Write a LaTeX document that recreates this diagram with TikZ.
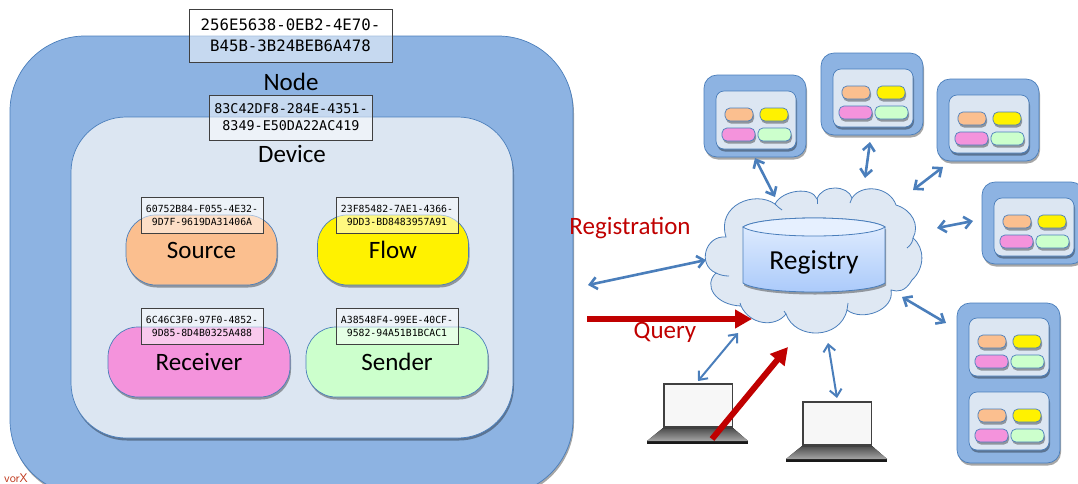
\documentclass[tikz,border=0pt]{standalone}
\usepackage{fontspec}
\setmainfont{Carlito}
\newfontfamily\idfont{DejaVu Sans Mono}
\usetikzlibrary{arrows.meta,shadows}
\definecolor{linkblue}{HTML}{4A7EBB}
\definecolor{nodeblue}{HTML}{8DB3E2}
\definecolor{devblue}{HTML}{DCE6F2}
\definecolor{srccol}{HTML}{FBBF8F}
\definecolor{recvcol}{HTML}{F493DC}
\definecolor{sendcol}{HTML}{CCFFCC}
\definecolor{queryred}{HTML}{C00000}
\definecolor{drumtop}{HTML}{E6F0FF}
\definecolor{drumlow}{HTML}{A9C9FA}
\begin{document}
\begin{tikzpicture}[
    x=1pt, y=-1pt,
    softshadow/.style={drop shadow={shadow xshift=1pt, shadow yshift=-2.5pt, opacity=.35, fill=black}},
    every node/.style={font=\fontsize{25}{28}\selectfont},
    boxnode/.style={draw=linkblue, line width=.7pt, rounded corners=#1, softshadow, inner sep=0pt},
    idbig/.style={draw=black!75, line width=.9pt, fill=white, fill opacity=.5, draw opacity=1, text opacity=1, align=center, inner sep=0pt, minimum width=203pt, minimum height=53pt, font=\idfont\fontsize{15.7}{21}\selectfont},
    idmid/.style={idbig, minimum width=163pt, minimum height=45pt, font=\idfont\fontsize{13.4}{17}\selectfont},
    idsmall/.style={idbig, minimum width=122pt, minimum height=36pt, font=\idfont\fontsize{9.8}{13}\selectfont},
    biglink/.style={linkblue, line width=2.6pt, {Straight Barb[length=7pt,width=12pt]}-{Straight Barb[length=7pt,width=12pt]}},
    thinlink/.style={biglink, line width=2pt},
    redlink/.style={queryred, line width=6pt, -{Triangle[length=17pt,width=18pt]}},
    redlabel/.style={text=queryred},
    chip/.style={draw=linkblue, line width=.7pt, rounded corners=5pt, softshadow},
    devicepic/.pic={
        \draw[fill=devblue, draw=linkblue, line width=.7pt, rounded corners=8pt, softshadow] (0,0) rectangle (80,58);
        \draw[chip, fill=srccol] (9,17) rectangle (37,30);
        \draw[chip, fill=yellow] (44,17) rectangle (72,30);
        \draw[chip, fill=recvcol] (6,37) rectangle (39,50);
        \draw[chip, fill=sendcol] (42,37) rectangle (75,50);
    },
    nodepic/.pic={
        \draw[fill=nodeblue, draw=linkblue, line width=.7pt, rounded corners=13pt, softshadow] (0,0) rectangle (102,82);
        \pic at (12,16) {devicepic};
    },
    laptop/.pic={
        \fill[black!90] (-16,58) -- (85,58) -- (85,61) -- (-16,61) -- cycle;
        \fill[top color=black!70, bottom color=black!35] (0,45) -- (70,45) -- (85,58) -- (-16,58) -- cycle;
        \fill[black!75] (0,0) rectangle (70,46);
        \fill[black!3] (1.5,1.5) rectangle (68.5,43);
    }
]
    \useasboundingbox (0,0) rectangle (1078,483);
    \clip (0,0) rectangle (1078,483);

    % big node on the left
    \node (nodebox) [boxnode=75pt, fill=nodeblue, minimum width=563pt, minimum height=459pt] at (291.5,265.5) {};
    \node (nodeid) [idbig] at (290.5,35.5) {256E5638-0EB2-4E70-\\B45B-3B24BEB6A478};
    \node (nodelabel) at (291,82) {Node};
    \node (devicebox) [boxnode=55pt, fill=devblue, minimum width=442pt, minimum height=321pt] at (292,277.5) {};
    \node (deviceid) [idmid] at (291,117.5) {83C42DF8-284E-4351-\\8349-E50DA22AC419};
    \node (devicelabel) at (292,154) {Device};

    \node (source) [boxnode=30pt, fill=srccol, minimum width=151pt, minimum height=70pt] at (201.5,250) {Source};
    \node (flow) [boxnode=30pt, fill=yellow, minimum width=151pt, minimum height=70pt] at (393,250) {Flow};
    \node (receiver) [boxnode=30pt, fill=recvcol, minimum width=182pt, minimum height=70pt] at (199,362) {Receiver};
    \node (sender) [boxnode=30pt, fill=sendcol, minimum width=182pt, minimum height=70pt] at (397,362) {Sender};
    \node (sourceid) [idsmall] at (202,215) {60752B84-F055-4E32-\\9D7F-9619DA31406A};
    \node (flowid) [idsmall] at (397,215) {23F85482-7AE1-4366-\\9DD3-BD8483957A91};
    \node (receiverid) [idsmall] at (202,326) {6C46C3F0-97F0-4852-\\9D85-8D4B0325A488};
    \node (senderid) [idsmall] at (397,326) {A38548F4-99EE-40CF-\\9582-94A51B1BCAC1};

    \node (vorx) [text=queryred!55!brown, font=\sffamily\fontsize{12.5}{14}\selectfont, anchor=base east, inner sep=0pt] at (28,482) {vorX};

    % registry cloud
    \draw[fill=devblue!90!white, draw=linkblue, line width=.8pt]
        (726,237) .. controls (716,205) and (755,190) .. (775,204)
        .. controls (782,190) and (812,186) .. (817,199)
        .. controls (822,184) and (848,185) .. (852,198)
        .. controls (862,183) and (890,187) .. (896,205)
        .. controls (912,210) and (920,225) .. (913,238)
        .. controls (925,248) and (925,268) .. (912,280)
        .. controls (905,292) and (898,292) .. (891,290)
        .. controls (895,310) and (862,322) .. (847,310)
        .. controls (840,340) and (795,340) .. (786,314)
        .. controls (775,328) and (750,325) .. (741,306)
        .. controls (715,305) and (703,285) .. (716,273)
        .. controls (697,265) and (705,235) .. (726,237) -- cycle;
    \draw[linkblue, line width=.8pt] (782,210) .. controls (779,208) and (777,206) .. (775,204);
    \draw[linkblue, line width=.8pt] (817,204) -- (817,199);
    \draw[linkblue, line width=.8pt] (850,203) -- (852,198);
    \draw[linkblue, line width=.8pt] (907,248) .. controls (911,245) and (913,241) .. (913,238);
    \draw[linkblue, line width=.8pt] (716,273) .. controls (720,275) and (724,276) .. (729,276);
    \draw[linkblue, line width=.8pt] (741,306) -- (740,303);
    \draw[linkblue, line width=.8pt] (786,314) -- (784,311);
    \draw[linkblue, line width=.8pt] (847,310) -- (848,303);

    % registry drum
    \draw[draw=linkblue, line width=.8pt, top color=drumtop, bottom color=drumlow, softshadow]
        (743,227) -- (743,283) .. controls (760,295) and (868,295) .. (885,283) -- (885,227)
        .. controls (868,215) and (760,215) .. (743,227) -- cycle;
    \draw[draw=linkblue, line width=.8pt, fill=drumtop] (743,227) .. controls (760,215) and (868,215) .. (885,227)
        .. controls (868,239) and (760,239) .. (743,227) -- cycle;
    \node (registry) [font=\fontsize{27.5}{30}\selectfont] at (814,262) {Registry};

    % surrounding nodes
    \pic (nodea) at (704,75) {nodepic};
    \pic (nodeb) at (821,53) {nodepic};
    \pic (nodec) at (937,79) {nodepic};
    \pic (noded) at (982,182) {nodepic};
    \draw[fill=nodeblue, draw=linkblue, line width=.7pt, rounded corners=13pt, softshadow] (957,303) rectangle (1060,463);
    \pic (rackone) at (969,318) {devicepic};
    \pic (racktwo) at (969,392) {devicepic};

    \pic (laptopa) at (663,383) {laptop};
    \pic (laptopb) at (802,401) {laptop};

    % free ends of the links
    \coordinate (regfrom) at (588,285);
    \coordinate (regto) at (706,260);
    \coordinate (queryfrom) at (587,319);
    \coordinate (queryto) at (752,319);
    \coordinate (lapqueryfrom) at (712,439);
    \coordinate (lapqueryto) at (788,347);
    \coordinate (lapaout) at (698,381);
    \coordinate (lapain) at (738,333);
    \coordinate (lapbout) at (837,398);
    \coordinate (lapbin) at (828,343);
    \coordinate (aout) at (755,158);
    \coordinate (ain) at (775,197);
    \coordinate (bout) at (870,142);
    \coordinate (bin) at (865,178);
    \coordinate (cout) at (943,167);
    \coordinate (cin) at (913,190);
    \coordinate (dout) at (973,221);
    \coordinate (din) at (937,228);
    \coordinate (rackout) at (946,323);
    \coordinate (rackin) at (902,297);

    \draw[biglink] (regfrom) -- (regto);
    \draw[redlink] (queryfrom) -- (queryto);
    \draw[thinlink] (lapaout) -- (lapain);
    \draw[thinlink] (lapbout) -- (lapbin);
    \draw[redlink] (lapqueryfrom) -- (lapqueryto);
    \draw[biglink] (aout) -- (ain);
    \draw[biglink] (bout) -- (bin);
    \draw[biglink] (cout) -- (cin);
    \draw[biglink] (dout) -- (din);
    \draw[biglink] (rackout) -- (rackin);

    \node (registration) [redlabel] at (630,228) {Registration};
    \node (query) [redlabel] at (665,332) {Query};
\end{tikzpicture}
\end{document}
